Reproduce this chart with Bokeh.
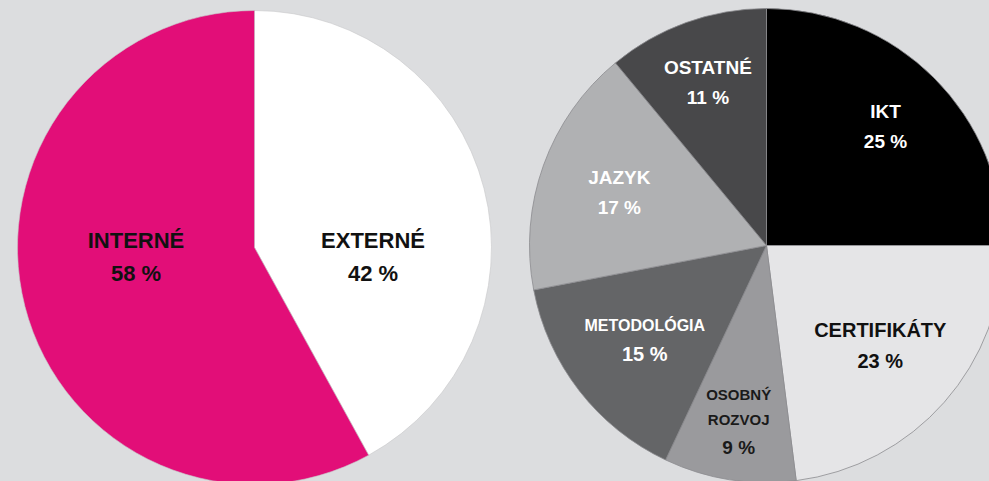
import numpy as np
from bokeh.plotting import figure
from bokeh.models import Range1d, ColumnDataSource
from bokeh.core.properties import value
from bokeh.embed import file_html
from bokeh.resources import INLINE

# ---- data ----
left_labels = ["EXTERNÉ", "INTERNÉ"]
left_values = [42, 58]

right_labels = ["IKT", "CERTIFIKÁTY", "OSOBNÝ\nROZVOJ", "METODOLÓGIA", "JAZYK", "OSTATNÉ"]
right_values = [25, 23, 9, 15, 17, 11]

# ---- styles ----
BG = "#dcdddf"
FONT = "Liberation Sans"
left_colors = ["#ffffff", "#e20e78"]
left_text_colors = ["#111111", "#111111"]
right_colors = ["#000000", "#e5e5e7", "#9a9a9d", "#646567", "#b0b1b3", "#48484a"]
right_text_colors = ["#ffffff", "#111111", "#1a1a1a", "#ffffff", "#ffffff", "#ffffff"]
right_label_frac = [0.71, 0.64, 0.75, 0.65, 0.66, 0.73]
right_name_size = [19, 20, 15, 16, 19, 19]
right_pct_size = [19, 20, 19, 20, 19, 19]

W, H = 989, 481
p = figure(width=W, height=H, output_backend="svg", toolbar_location=None,
           x_range=Range1d(0, W), y_range=Range1d(0, H), min_border=0)
p.axis.visible = False
p.grid.visible = False
p.outline_line_color = None
p.background_fill_color = BG
p.border_fill_color = BG


def angles(vals):
    fr = np.array(vals, dtype=float) / sum(vals)
    cum = np.concatenate([[0.0], np.cumsum(fr)])
    start = np.pi / 2 - 2 * np.pi * cum[:-1]
    end = np.pi / 2 - 2 * np.pi * cum[1:]
    return start, end, (start + end) / 2


tx, ty, tt, tc, ts = [], [], [], [], []


def add_block(x, yc, lines, sizes, color):
    gaps = [0.6 * (sizes[i] + sizes[i + 1]) + 7 for i in range(len(sizes) - 1)]
    total = sum(gaps)
    y = yc + total / 2
    for i, (ln, s) in enumerate(zip(lines, sizes)):
        tx.append(x); ty.append(y); tt.append(ln); tc.append(color); ts.append(f"{s}px")
        if i < len(gaps):
            y -= gaps[i]


# ---- left pie ----
lcx, lcy, R = 254, 234, 237
s, e, m = angles(left_values)
p.wedge(x=lcx, y=lcy, radius=R, start_angle=s, end_angle=e, direction="clock",
        fill_color=left_colors, line_color="#c8c8ca", line_width=0.6)
for lab, v, mid, col in zip(left_labels, left_values, m, left_text_colors):
    x = lcx + 0.5 * R * np.sign(np.cos(mid))
    add_block(x, lcy - 0.04 * R, [lab, f"{v} %"], [22, 22], col)

# ---- right pie ----
rcx, rcy = 766, 236
s, e, m = angles(right_values)
p.wedge(x=rcx, y=rcy, radius=R, start_angle=s, end_angle=e, direction="clock",
        fill_color=right_colors, line_color="#8c8c8f", line_width=0.8)
for lab, v, mid, col, fr, ns, ps in zip(right_labels, right_values, m, right_text_colors,
                                        right_label_frac, right_name_size, right_pct_size):
    x = rcx + fr * R * np.cos(mid)
    y = rcy + fr * R * np.sin(mid)
    names = lab.split("\n")
    add_block(x, y, names + [f"{v} %"], [ns] * len(names) + [ps], col)

src = ColumnDataSource(dict(x=tx, y=ty, text=tt, color=tc, size=ts))
p.text(x="x", y="y", text="text", text_color="color", text_font_size="size",
       text_font=value(FONT), text_font_style="bold", text_align="center",
       text_baseline="middle", source=src)

html = file_html(p, INLINE)
html = html.replace("</head>", f"<style>html,body{{background:{BG};}}</style></head>", 1)
open("out.html", "w").write(html)
